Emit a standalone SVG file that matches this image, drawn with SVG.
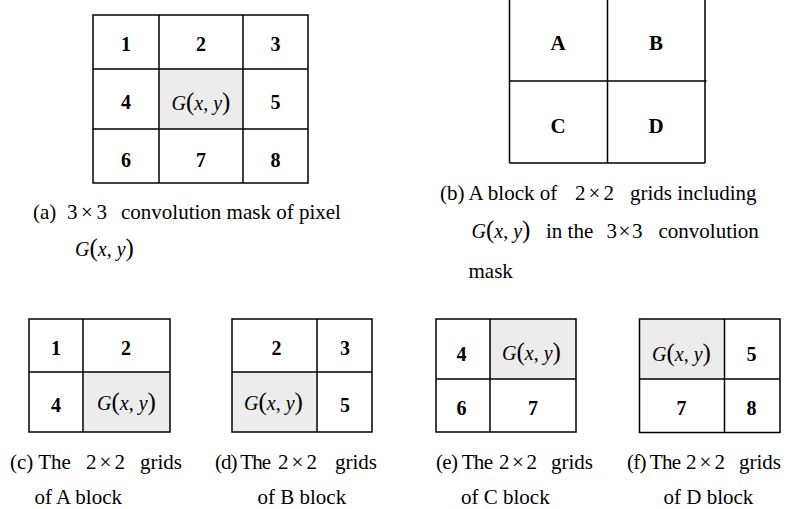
<svg xmlns="http://www.w3.org/2000/svg" width="792" height="509" viewBox="0 0 792 509">
<style>
.ln{stroke:#000;stroke-width:1.5;fill:none}
.gr{fill:#ececec;stroke:none}
.d{font-family:"Liberation Serif","Times New Roman",serif;font-weight:bold;font-size:20px;text-anchor:middle;fill:#000}
.L{font-family:"Liberation Serif","Times New Roman",serif;font-weight:bold;font-size:21px;text-anchor:middle;fill:#000}
.g{font-family:"Liberation Serif","Times New Roman",serif;font-style:italic;font-size:20px;text-anchor:middle;fill:#000}
.g .p{font-style:normal;font-size:25px}
.g .c{font-style:normal}
.cap{font-family:"Liberation Serif","Times New Roman",serif;font-size:21px;fill:#000}
.gs{font-family:"Liberation Serif","Times New Roman",serif;font-style:italic;font-size:20px;fill:#000}
.gs .p{font-style:normal;font-size:25px}
.gs .c{font-style:normal}
</style>
<rect width="792" height="509" fill="#fff"/>

<g id="panel-a">
  <rect class="gr" x="159" y="69" width="84" height="60"/>
  <rect class="ln" x="93" y="15" width="215" height="168"/>
  <path class="ln" d="M159 15V183M243 15V183M93 69H308M93 129H308"/>
  <text class="d" x="126" y="50.5">1</text>
  <text class="d" x="201" y="50.5">2</text>
  <text class="d" x="275.5" y="50.5">3</text>
  <text class="d" x="126" y="108.5">4</text>
  <text class="g" x="201" y="110">G<tspan class="p">(</tspan>x<tspan class="c">,</tspan> y<tspan class="p">)</tspan></text>
  <text class="d" x="275.5" y="108.5">5</text>
  <text class="d" x="126" y="166.5">6</text>
  <text class="d" x="201" y="166.5">7</text>
  <text class="d" x="275.5" y="166.5">8</text>
  <text class="cap" x="33" y="219">(a)</text>
  <text class="cap" x="67" y="219" textLength="40" lengthAdjust="spacing">3×3</text>
  <text class="cap" x="121" y="219">convolution mask of pixel</text>
  <text class="gs" x="75" y="256">G<tspan class="p">(</tspan>x<tspan class="c">,</tspan> y<tspan class="p">)</tspan></text>
</g>

<g id="panel-b">
  <path class="ln" d="M509.5 0V163M607.5 0V163M705 0V163M509.5 81H706.5M509.5 163H705"/>
  <text class="L" x="558" y="50">A</text>
  <text class="L" x="656" y="50">B</text>
  <text class="L" x="558" y="132.5">C</text>
  <text class="L" x="656" y="132.5">D</text>
  <text class="cap" x="440" y="200">(b) A block of</text>
  <text class="cap" x="575" y="200" textLength="39" lengthAdjust="spacing">2×2</text>
  <text class="cap" x="630" y="200">grids including</text>
  <text class="gs" x="471.5" y="238">G<tspan class="p">(</tspan>x<tspan class="c">,</tspan> y<tspan class="p">)</tspan></text>
  <text class="cap" x="546" y="238">in the</text>
  <text class="cap" x="606.5" y="238" textLength="36" lengthAdjust="spacing">3×3</text>
  <text class="cap" x="658.5" y="238">convolution</text>
  <text class="cap" x="468.5" y="278">mask</text>
</g>

<g id="panel-c">
  <rect class="gr" x="83" y="372" width="87" height="60"/>
  <rect class="ln" x="29" y="319" width="141" height="113"/>
  <path class="ln" d="M83 319V432M29 372H170"/>
  <text class="d" x="56" y="355">1</text>
  <text class="d" x="126" y="355">2</text>
  <text class="d" x="56" y="411.5">4</text>
  <text class="g" x="126.5" y="410">G<tspan class="p">(</tspan>x<tspan class="c">,</tspan> y<tspan class="p">)</tspan></text>
  <text class="cap" x="10" y="469">(c) The</text>
  <text class="cap" x="86" y="469" textLength="39" lengthAdjust="spacing">2×2</text>
  <text class="cap" x="140" y="469">grids</text>
  <text class="cap" x="34.5" y="504">of A block</text>
</g>

<g id="panel-d">
  <rect class="gr" x="232" y="372" width="85" height="60"/>
  <rect class="ln" x="232" y="319" width="140" height="113"/>
  <path class="ln" d="M317 319V432M232 372H372"/>
  <text class="d" x="276.5" y="355">2</text>
  <text class="d" x="345" y="355">3</text>
  <text class="g" x="273.5" y="410">G<tspan class="p">(</tspan>x<tspan class="c">,</tspan> y<tspan class="p">)</tspan></text>
  <text class="d" x="345" y="411.5">5</text>
  <text class="cap" x="215" y="469" textLength="56" lengthAdjust="spacing">(d) The</text>
  <text class="cap" x="278" y="469" textLength="39" lengthAdjust="spacing">2×2</text>
  <text class="cap" x="335" y="469">grids</text>
  <text class="cap" x="257.5" y="504">of B block</text>
</g>

<g id="panel-e">
  <rect class="gr" x="490" y="319" width="86" height="60"/>
  <rect class="ln" x="436" y="319" width="140" height="113"/>
  <path class="ln" d="M490 319V432M436 379H576"/>
  <text class="d" x="461.5" y="360.5">4</text>
  <text class="g" x="531.5" y="360">G<tspan class="p">(</tspan>x<tspan class="c">,</tspan> y<tspan class="p">)</tspan></text>
  <text class="d" x="461.5" y="415">6</text>
  <text class="d" x="533" y="415">7</text>
  <text class="cap" x="436" y="469" textLength="57" lengthAdjust="spacing">(e) The</text>
  <text class="cap" x="499" y="469" textLength="38" lengthAdjust="spacing">2×2</text>
  <text class="cap" x="551" y="469">grids</text>
  <text class="cap" x="461" y="504">of C block</text>
</g>

<g id="panel-f">
  <rect class="gr" x="639.5" y="319" width="85" height="60"/>
  <rect class="ln" x="639.5" y="319" width="140.5" height="113.5"/>
  <path class="ln" d="M724.5 319V432.5M639.5 379H780"/>
  <text class="g" x="681.5" y="361">G<tspan class="p">(</tspan>x<tspan class="c">,</tspan> y<tspan class="p">)</tspan></text>
  <text class="d" x="751.5" y="361">5</text>
  <text class="d" x="681.5" y="415">7</text>
  <text class="d" x="751.5" y="415">8</text>
  <text class="cap" x="627" y="469" textLength="54" lengthAdjust="spacing">(f) The</text>
  <text class="cap" x="686" y="469" textLength="39" lengthAdjust="spacing">2×2</text>
  <text class="cap" x="739" y="469">grids</text>
  <text class="cap" x="663.5" y="504">of D block</text>
</g>

<g id="connectors"/>
</svg>
